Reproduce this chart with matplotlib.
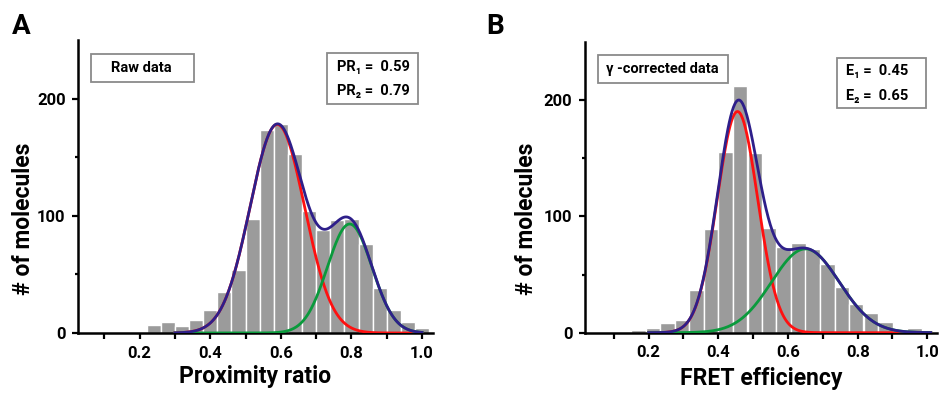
import numpy as np
import matplotlib.pyplot as plt
from matplotlib.patches import Rectangle

plt.rcParams['font.family'] = ['Roboto', 'DejaVu Sans']
plt.rcParams['font.weight'] = 'bold'

# Панель A: сирі дані (proximity ratio)
bin_w_a = 0.04
edges_a = [0.14, 0.18, 0.22, 0.26, 0.30, 0.34, 0.38, 0.42, 0.46, 0.50, 0.54,
           0.58, 0.62, 0.66, 0.70, 0.74, 0.78, 0.82, 0.86, 0.90, 0.94, 0.98]
counts_a = [1, 1, 7, 9, 6, 11, 20, 35, 54, 97, 173,
            178, 153, 104, 88, 96, 97, 76, 38, 20, 9, 4]
# параметри гаусових компонент (амплітуда, центр, сигма)
amp_a = [178, 93]
mu_a = [0.59, 0.795]
sig_a = [0.077, 0.063]

# Панель B: FRET efficiency
bin_w_b = 0.0417
edges_b = [0.150, 0.192, 0.233, 0.275, 0.317, 0.358, 0.400, 0.442, 0.484,
           0.525, 0.567, 0.609, 0.650, 0.692, 0.734, 0.775, 0.817, 0.859,
           0.901, 0.942]
counts_b = [2, 4, 8, 11, 37, 89, 155, 212, 154, 90, 74, 77, 72, 59, 39,
            25, 17, 9, 1, 4]
amp_b = [190, 72]
mu_b = [0.455, 0.65]
sig_b = [0.058, 0.097]

bar_col = '#9b9b9b'
blue = '#2e1f8a'
red = '#ff1010'
green = '#0a9a3c'

W, H = 939, 398


def gauss(x, a, m, s):
    return a * np.exp(-(x - m) ** 2 / (2 * s ** 2))


def panel(ax, edges, counts, w, amp, mu, sig, xr, xlim, xlabel, ylx, lpad):
    ax.bar(edges, counts, width=w, align='edge', color=bar_col,
           edgecolor='white', linewidth=1.0, zorder=1)
    x = np.linspace(xr[0], xr[1], 400)
    g1 = gauss(x, amp[0], mu[0], sig[0])
    g2 = gauss(x, amp[1], mu[1], sig[1])
    ax.plot(x, g1, color=red, lw=2.0, zorder=3)
    ax.plot(x, g2, color=green, lw=2.0, zorder=3)
    ax.plot(x, g1 + g2, color=blue, lw=2.0, zorder=4)
    ax.set_xlim(*xlim)
    ax.set_ylim(0, 250)
    for s in ['top', 'right']:
        ax.spines[s].set_visible(False)
    for s in ['left', 'bottom']:
        ax.spines[s].set_linewidth(1.8)
    ax.set_xticks([0.2, 0.4, 0.6, 0.8, 1.0])
    ax.set_xticks([0.1, 0.3, 0.5, 0.7, 0.9], minor=True)
    ax.set_xticklabels(['0.2', '0.4', '0.6', '0.8', '1.0'])
    ax.set_yticks([0, 100, 200])
    ax.set_yticks([50, 150], minor=True)
    ax.tick_params(which='major', length=4, width=1.6, labelsize=12, pad=5)
    ax.tick_params(which='minor', length=4, width=1.6)
    ax.tick_params(axis='y', which='minor', length=2.5)
    ax.set_xlabel(xlabel, fontsize=16.5, fontweight='bold', labelpad=lpad)
    ax.set_ylabel('# of molecules', fontsize=16.5, fontweight='bold')
    ax.yaxis.set_label_coords(ylx, 0.39)


def box(x0, y0, x1, y1):
    # рамка в пікселях від верхнього лівого кута
    fig.patches.append(Rectangle((x0 / W, 1 - y1 / H), (x1 - x0) / W,
                                 (y1 - y0) / H, transform=fig.transFigure,
                                 facecolor='white', edgecolor='#8a8a8a',
                                 linewidth=1.3, zorder=5))


def txt(x, y, s, ha='center'):
    fig.text(x / W, 1 - y / H, s, fontsize=10.5, fontweight='bold', ha=ha,
             va='center', zorder=6)


fig = plt.figure(figsize=(9.39, 3.98), dpi=100)
ax1 = fig.add_axes([78 / W, 1 - 333 / H, 355 / W, 293 / H])
ax2 = fig.add_axes([585 / W, 1 - 332.7 / H, 351.7 / W, 291 / H])

panel(ax1, edges_a, counts_a, bin_w_a, amp_a, mu_a, sig_a, (0.3, 1.0),
      (0.0255, 1.031), 'Proximity ratio', -0.12, 3)
panel(ax2, edges_b, counts_b, bin_w_b, amp_b, mu_b, sig_b, (0.2, 1.01),
      (0.0172, 1.027), 'FRET efficiency', -0.135, 5)

box(90.7, 54, 194, 81.7)
txt(141, 68, 'Raw data')
box(326.7, 53.3, 417.7, 104)
txt(410, 67, 'PR\u2081 =  0.59', ha='right')
txt(410, 91, 'PR\u2082 =  0.79', ha='right')

box(598, 55, 728, 83)
txt(662, 69, '\u03b3 -corrected data')
box(836.7, 58.3, 926, 108.3)
txt(908, 71.5, 'E\u2081 =  0.45', ha='right')
txt(908, 96, 'E\u2082 =  0.65', ha='right')

fig.text(12 / W, 1 - 26 / H, 'A', fontsize=20, fontweight='bold',
         va='center')
fig.text(486 / W, 1 - 26 / H, 'B', fontsize=20, fontweight='bold',
         va='center')

fig.savefig('out.png', dpi=100)
